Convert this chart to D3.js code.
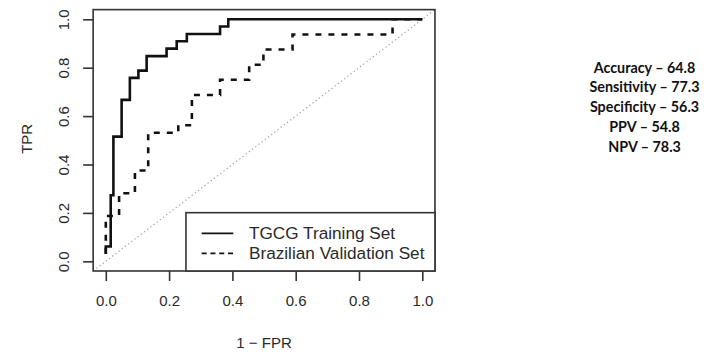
<!DOCTYPE html>
<html>
<head>
<meta charset="utf-8">
<script src="https://cdn.jsdelivr.net/npm/d3@7"></script>
<style>
  body { margin: 0; background: #fff; }
  svg { display: block; }
</style>
</head>
<body>
<script>
// ROC vertices (1 - specificity, sensitivity) for each cohort
const trainFPR = [0, 0, 0.0155, 0.0155, 0.024, 0.024, 0.050, 0.050, 0.076, 0.076, 0.103, 0.103, 0.129, 0.129, 0.192, 0.192, 0.224, 0.224, 0.256, 0.256, 0.361, 0.361, 0.387, 0.387, 1];
const trainTPR = [0.030, 0.061, 0.061, 0.273, 0.273, 0.515, 0.515, 0.667, 0.667, 0.758, 0.758, 0.788, 0.788, 0.848, 0.848, 0.879, 0.879, 0.909, 0.909, 0.939, 0.939, 0.970, 0.970, 1, 1];

const validFPR = [0, 0, 0.042, 0.042, 0.092, 0.092, 0.134, 0.134, 0.229, 0.229, 0.272, 0.272, 0.361, 0.361, 0.453, 0.453, 0.498, 0.498, 0.590, 0.590, 0.906, 0.906, 1];
const validTPR = [0.031, 0.1875, 0.1875, 0.281, 0.281, 0.375, 0.375, 0.531, 0.531, 0.5625, 0.5625, 0.6875, 0.6875, 0.75, 0.75, 0.8125, 0.8125, 0.875, 0.875, 0.9375, 0.9375, 1, 1];

const tickValues = [0, 0.2, 0.4, 0.6, 0.8, 1.0];
const tickLabels = ["0.0", "0.2", "0.4", "0.6", "0.8", "1.0"];

const seriesNames = ["TGCG Training Set", "Brazilian Validation Set"];
const xTitle = "1 \u2212 FPR";
const yTitle = "TPR";

const metricNames = ["Accuracy", "Sensitivity", "Specificity", "PPV", "NPV"];
const metricValues = ["64.8", "77.3", "56.3", "54.8", "78.3"];

const W = 704, H = 352;
const axisFont = "'Liberation Sans', Arial, Helvetica, sans-serif";
const ink = "#2a2a2a";

const svg = d3.select("body").append("svg")
  .attr("width", W).attr("height", H);

const x = d3.scaleLinear().domain([0, 1]).range([105.8, 422.3]);
const y = d3.scaleLinear().domain([0, 1]).range([261.3, 19.3]);

// plot region extends 4% beyond the data range on every side
const px0 = x(-0.04), px1 = x(1.04);
const pyB = y(-0.04), pyT = y(1.04);

svg.append("defs").append("clipPath").attr("id", "plotClip")
  .append("rect")
  .attr("x", px0).attr("y", pyT)
  .attr("width", px1 - px0).attr("height", pyB - pyT);

const plot = svg.append("g").attr("clip-path", "url(#plotClip)");

// chance diagonal
plot.append("line")
  .attr("x1", x(-0.04)).attr("y1", y(-0.04))
  .attr("x2", x(1.04)).attr("y2", y(1.04))
  .attr("stroke", "#a8a8a8")
  .attr("stroke-width", 1.2)
  .attr("stroke-dasharray", "1.4,2.6");

const line = d3.line().x(d => x(d[0])).y(d => y(d[1]));

const validPts = validFPR.map((f, i) => [f, validTPR[i]]);
const trainPts = trainFPR.map((f, i) => [f, trainTPR[i]]);

plot.append("path")
  .datum(validPts)
  .attr("d", line)
  .attr("fill", "none")
  .attr("stroke", "#111")
  .attr("stroke-width", 2.6)
  .attr("stroke-dasharray", "6,7");

plot.append("path")
  .datum(trainPts)
  .attr("d", line)
  .attr("fill", "none")
  .attr("stroke", "#111")
  .attr("stroke-width", 2.6);

// box
svg.append("rect")
  .attr("x", px0).attr("y", pyT)
  .attr("width", px1 - px0).attr("height", pyB - pyT)
  .attr("fill", "none").attr("stroke", "#333").attr("stroke-width", 1.6);

// axes
const xAxis = svg.append("g")
  .attr("transform", `translate(0,${pyB})`)
  .call(d3.axisBottom(x).tickValues(tickValues)
    .tickFormat((d, i) => tickLabels[i]).tickSize(10).tickPadding(14.7));

const yAxis = svg.append("g")
  .attr("transform", `translate(${px0},0)`)
  .call(d3.axisLeft(y).tickValues(tickValues)
    .tickFormat((d, i) => tickLabels[i]).tickSize(10));

[xAxis, yAxis].forEach(g => {
  g.select(".domain").remove();
  g.selectAll(".tick line").attr("stroke", "#333").attr("stroke-width", 1.6);
  g.selectAll(".tick text")
    .attr("fill", ink)
    .style("font-family", axisFont)
    .style("font-size", "15px");
});

yAxis.selectAll(".tick text")
  .attr("x", null).attr("y", null)
  .attr("transform", "translate(-29.4,0) rotate(-90)")
  .attr("text-anchor", "middle")
  .attr("dy", "0.35em");

// axis titles
svg.append("text")
  .attr("x", (x(0) + x(1)) / 2).attr("y", 347.5)
  .attr("text-anchor", "middle")
  .attr("fill", ink)
  .style("font-family", axisFont).style("font-size", "15px")
  .text(xTitle);

svg.append("text")
  .attr("transform", `translate(26.7,${(pyT + pyB) / 2 - 1.5}) rotate(-90)`)
  .attr("text-anchor", "middle")
  .attr("dy", "0.35em")
  .attr("fill", ink)
  .style("font-family", axisFont).style("font-size", "15px")
  .text(yTitle);

// legend, anchored bottom-right inside the plot region
const legW = 249, legH = 58.3;
const legX = px1 - legW, legY = pyB - legH;
const legend = svg.append("g");
legend.append("rect")
  .attr("x", legX).attr("y", legY)
  .attr("width", legW).attr("height", legH)
  .attr("fill", "#fff").attr("stroke", "#333").attr("stroke-width", 1.6);

const legendDash = [null, "5,3.8"];
seriesNames.forEach((name, i) => {
  const cy = legY + 20.6 + i * 20;
  legend.append("line")
    .attr("x1", legX + 15.7).attr("x2", legX + 47.3)
    .attr("y1", cy).attr("y2", cy)
    .attr("stroke", "#111").attr("stroke-width", 1.8)
    .attr("stroke-dasharray", legendDash[i]);
  legend.append("text")
    .attr("x", legX + 63).attr("y", cy)
    .attr("dy", "0.36em")
    .attr("fill", ink)
    .style("font-family", axisFont).style("font-size", "17.2px")
    .text(name);
});

// performance summary
const summary = svg.append("g");
const lines = metricNames.map((n, i) => `${n} \u2013 ${metricValues[i]}`);
const summaryText = summary.selectAll("text")
  .data(lines)
  .join("text")
  .attr("x", 0)
  .attr("y", (d, i) => 67.3 + i * 19.8)
  .attr("dy", "0.36em")
  .attr("text-anchor", "middle")
  .attr("fill", "#111")
  .style("font-family", "Lato, 'Open Sans', sans-serif")
  .style("font-weight", "700")
  .style("font-size", "15px")
  .text(d => d);

// condense horizontally so the first line spans its target width
const firstW = summaryText.node().getComputedTextLength();
const sx = 101.7 / firstW;
summary.attr("transform", `translate(644.5,0) scale(${sx},1)`);
</script>
</body>
</html>
